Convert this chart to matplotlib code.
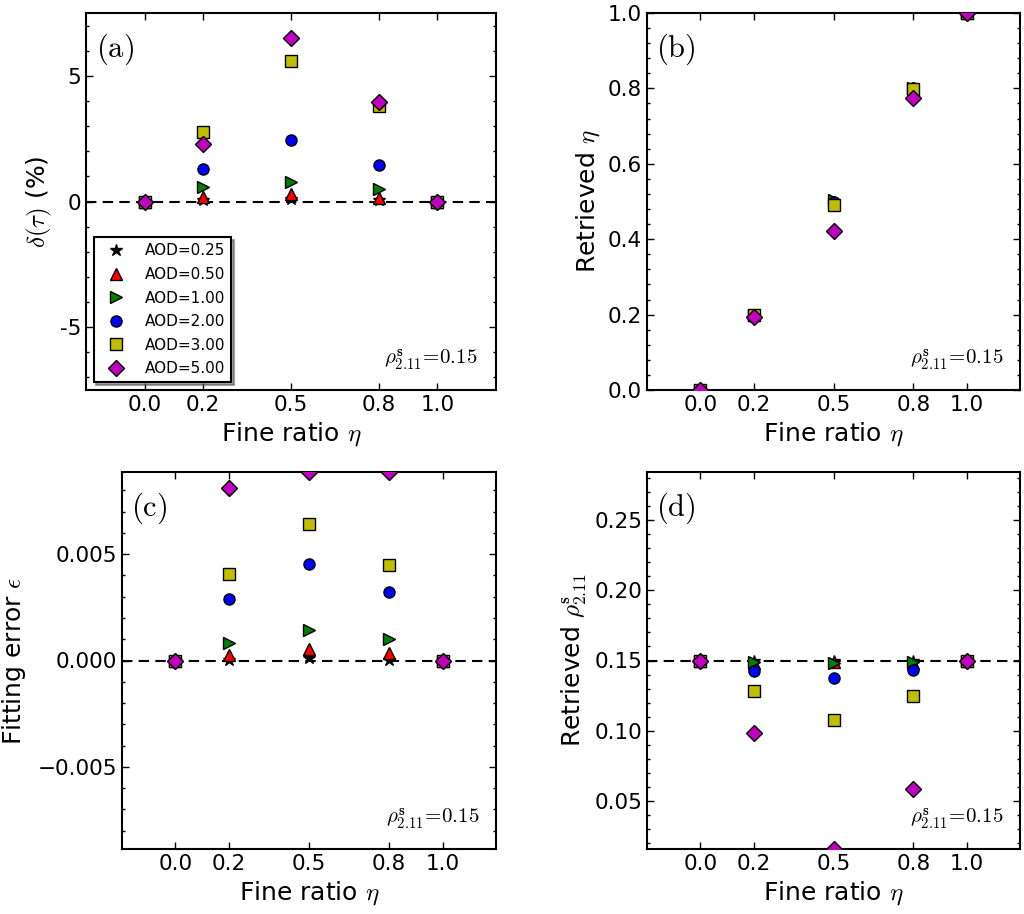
import matplotlib
matplotlib.use("Agg")
import matplotlib.pyplot as plt
from matplotlib.ticker import AutoMinorLocator

plt.rcParams['mathtext.fontset'] = 'cm'
plt.rcParams['font.family'] = ['DejaVu Sans']

# ---- data ----
eta = [0.0, 0.2, 0.5, 0.8, 1.0]
aod_labels = ['AOD=0.25', 'AOD=0.50', 'AOD=1.00', 'AOD=2.00', 'AOD=3.00', 'AOD=5.00']

# (a) delta(tau) in %
dtau_025 = [0.0, 0.04, 0.08, 0.04, 0.0]
dtau_050 = [0.0, 0.17, 0.28, 0.13, 0.0]
dtau_100 = [0.0, 0.57, 0.79, 0.48, 0.0]
dtau_200 = [0.0, 1.31, 2.45, 1.44, 0.0]
dtau_300 = [0.0, 2.76, 5.60, 3.78, 0.0]
dtau_500 = [0.0, 2.30, 6.50, 3.94, 0.0]

# (b) retrieved eta
reta_025 = [0.0, 0.200, 0.500, 0.800, 1.0]
reta_050 = [0.0, 0.200, 0.500, 0.800, 1.0]
reta_100 = [0.0, 0.200, 0.503, 0.801, 1.0]
reta_200 = [0.0, 0.200, 0.498, 0.800, 1.0]
reta_300 = [0.0, 0.199, 0.491, 0.798, 1.0]
reta_500 = [0.0, 0.193, 0.421, 0.774, 1.0]

# (c) fitting error
ferr_025 = [0.0, 0.00002, 0.00010, 0.00003, 0.0]
ferr_050 = [0.0, 0.00027, 0.00052, 0.00036, 0.0]
ferr_100 = [0.0, 0.00080, 0.00144, 0.00100, 0.0]
ferr_200 = [0.0, 0.00287, 0.00453, 0.00323, 0.0]
ferr_300 = [0.0, 0.00408, 0.00641, 0.00450, 0.0]
ferr_500 = [0.0, 0.00813, 0.00886, 0.00886, 0.0]

# (d) retrieved surface reflectance
rrho_025 = [0.150, 0.1497, 0.1495, 0.1497, 0.150]
rrho_050 = [0.150, 0.1480, 0.1490, 0.1480, 0.150]
rrho_100 = [0.150, 0.1490, 0.1483, 0.1488, 0.150]
rrho_200 = [0.150, 0.1426, 0.1374, 0.1431, 0.150]
rrho_300 = [0.150, 0.1284, 0.1077, 0.1246, 0.150]
rrho_500 = [0.150, 0.0985, 0.0156, 0.0581, 0.150]

markers = ['*', '^', '>', 'o', 's', 'D']
colors = ['k', 'r', 'g', 'b', 'y', 'm']
sizes = [9, 9, 9, 8, 8, 8]

W, H = 1024, 914
fig = plt.figure(figsize=(W / 100, H / 100), dpi=100)

def rect(l, t, r, b):
    return [l / W, (H - b) / H, (r - l) / W, (b - t) / H]

ax_a = fig.add_axes(rect(86, 13, 496, 390))
ax_b = fig.add_axes(rect(647, 13, 1020, 390))
ax_c = fig.add_axes(rect(122, 472, 496, 849))
ax_d = fig.add_axes(rect(647, 472, 1020, 849))

panels = [
    (ax_a, [dtau_025, dtau_050, dtau_100, dtau_200, dtau_300, dtau_500], 0.0, '(a)'),
    (ax_b, [reta_025, reta_050, reta_100, reta_200, reta_300, reta_500], None, '(b)'),
    (ax_c, [ferr_025, ferr_050, ferr_100, ferr_200, ferr_300, ferr_500], 0.0, '(c)'),
    (ax_d, [rrho_025, rrho_050, rrho_100, rrho_200, rrho_300, rrho_500], 0.15, '(d)'),
]

for ax, series, ref, tag in panels:
    if ref is not None:
        ax.axhline(ref, color='k', ls='--', lw=1.5, dashes=(5, 3), zorder=1)
    for ys, mk, c, ms, lab in zip(series, markers, colors, sizes, aod_labels):
        ax.plot(eta, ys, ls='none', marker=mk, color=c, markersize=ms,
                markeredgecolor='k', markeredgewidth=1.0, label=lab, zorder=3)
    ax.set_xlim(-0.2, 1.2)
    ax.set_xticks(eta)
    ax.set_xticklabels(['0.0', '0.2', '0.5', '0.8', '1.0'])
    ax.set_xlabel(r'Fine ratio $\eta$', fontsize=18)
    ax.yaxis.set_minor_locator(AutoMinorLocator(5))
    ax.tick_params(which='both', direction='in', top=True, right=True, labelsize=15.5)
    ax.tick_params(which='major', length=5, width=1)
    ax.tick_params(which='minor', length=2.5, width=1)
    for sp in ax.spines.values():
        sp.set_linewidth(1.5)
    ax.text(0.025, 0.905, r'$\mathrm{' + tag + '}$', transform=ax.transAxes,
            fontsize=22, ha='left', va='center')
    ax.text(0.955, 0.08, r'$\rho_{2.11}^{\mathbf{s}}\!=\!0.15$', transform=ax.transAxes,
            fontsize=15, ha='right', va='center')

ax_a.set_ylim(-7.5, 7.5)
ax_a.set_yticks([-5, 0, 5])
ax_a.set_yticklabels(['-5', '0', '5'])
ax_a.set_ylabel(r'$\delta(\tau)$ (%)', fontsize=18)
leg = ax_a.legend(loc='lower left', numpoints=1, fontsize=11, shadow=True,
                  fancybox=False, frameon=True, labelspacing=0.56,
                  handlelength=2.1, handletextpad=0.85, borderpad=0.4,
                  borderaxespad=0.5)
leg.get_frame().set_edgecolor('k')
leg.get_frame().set_linewidth(1.5)

ax_b.set_ylim(0.0, 1.0)
ax_b.set_yticks([0.0, 0.2, 0.4, 0.6, 0.8, 1.0])
ax_b.set_yticklabels(['0.0', '0.2', '0.4', '0.6', '0.8', '1.0'])
ax_b.set_ylabel(r'Retrieved $\eta$', fontsize=18)

ax_c.set_ylim(-0.00886, 0.00886)
ax_c.set_yticks([-0.005, 0.0, 0.005])
ax_c.set_yticklabels(['\u22120.005', '0.000', '0.005'])
ax_c.set_ylabel(r'Fitting error $\epsilon$', fontsize=18)
ax_c.yaxis.set_label_coords(-0.25, 0.5)

ax_d.set_ylim(0.0156, 0.2844)
ax_d.set_yticks([0.05, 0.10, 0.15, 0.20, 0.25])
ax_d.set_yticklabels(['0.05', '0.10', '0.15', '0.20', '0.25'])
ax_d.set_ylabel(r'Retrieved $\rho_{2.11}^{\mathbf{s}}$', fontsize=18)

fig.savefig('out.png', dpi=100)
